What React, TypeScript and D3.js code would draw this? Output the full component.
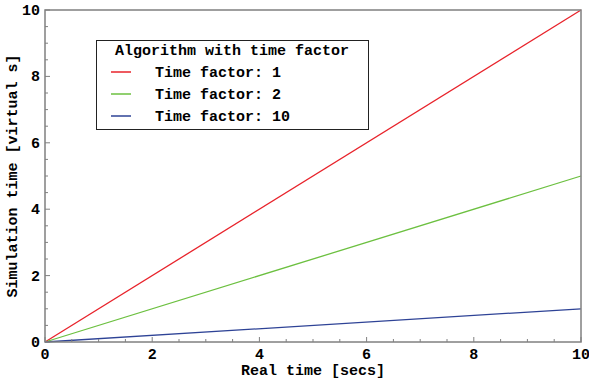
import React, { useRef, useEffect } from 'react';
import * as d3 from 'd3';

const realTime = [0, 10];
const factor1 = [0, 10];
const factor2 = [0, 5];
const factor10 = [0, 1];
const seriesNames = ['Time factor: 1', 'Time factor: 2', 'Time factor: 10'];
const seriesColors = ['#e8232b', '#6cc040', '#2e4396'];
const majorTicks = [0, 2, 4, 6, 8, 10];

function App() {
    const ref = useRef<SVGSVGElement>(null);

    useEffect(() => {
        const svg = d3.select(ref.current);
        svg.selectAll('*').remove();

        const left = 45, right = 581, top = 10, bottom = 342;
        const font = '"Liberation Mono", "DejaVu Sans Mono", monospace';

        const x = d3.scaleLinear().domain([0, 10]).range([left, right]);
        const y = d3.scaleLinear().domain([0, 10]).range([bottom, top]);

        const minor = d3.range(0, 10.01, 0.5).filter(v => !majorTicks.includes(v));

        // series
        const allSeries = [factor1, factor2, factor10];
        const line = d3.line<number>()
            .x((d, i) => x(realTime[i]))
            .y(d => y(d));
        allSeries.forEach((s, i) => {
            svg.append('path')
                .attr('d', line(s))
                .attr('fill', 'none')
                .attr('stroke', seriesColors[i])
                .attr('stroke-width', 1.3);
        });

        // frame
        svg.append('rect')
            .attr('x', left).attr('y', top)
            .attr('width', right - left).attr('height', bottom - top)
            .attr('fill', 'none')
            .attr('stroke', '#808080')
            .attr('stroke-width', 1.5);

        const tickColor = '#808080';
        // x ticks
        majorTicks.forEach(v => {
            svg.append('line')
                .attr('x1', x(v)).attr('x2', x(v))
                .attr('y1', bottom).attr('y2', bottom - 5)
                .attr('stroke', tickColor);
            svg.append('text')
                .attr('x', x(v)).attr('y', bottom + 17)
                .attr('text-anchor', 'middle')
                .style('font-family', font).style('font-weight', 'bold').style('font-size', '15px')
                .text(v);
            svg.append('line')
                .attr('x1', left).attr('x2', left + 5)
                .attr('y1', y(v)).attr('y2', y(v))
                .attr('stroke', tickColor);
            svg.append('text')
                .attr('x', left - 5).attr('y', y(v) + 5)
                .attr('text-anchor', 'end')
                .style('font-family', font).style('font-weight', 'bold').style('font-size', '15px')
                .text(v);
        });
        minor.forEach(v => {
            svg.append('line')
                .attr('x1', x(v)).attr('x2', x(v))
                .attr('y1', bottom).attr('y2', bottom - 3)
                .attr('stroke', tickColor);
            svg.append('line')
                .attr('x1', left).attr('x2', left + 3)
                .attr('y1', y(v)).attr('y2', y(v))
                .attr('stroke', tickColor);
        });

        // axis labels
        svg.append('text')
            .attr('x', (left + right) / 2).attr('y', 375)
            .attr('text-anchor', 'middle')
            .style('font-family', font).style('font-weight', 'bold').style('font-size', '15px')
            .text('Real time [secs]');
        svg.append('text')
            .attr('transform', `translate(17,${(top + bottom) / 2}) rotate(-90)`)
            .attr('text-anchor', 'middle')
            .style('font-family', font).style('font-weight', 'bold').style('font-size', '15px')
            .text('Simulation time [virtual s]');

        // legend
        const lg = svg.append('g');
        lg.append('rect')
            .attr('x', 96.5).attr('y', 40.5)
            .attr('width', 272).attr('height', 89)
            .attr('fill', 'white')
            .attr('stroke', '#222')
            .attr('stroke-width', 1);
        lg.append('text')
            .attr('x', 232).attr('y', 55)
            .attr('text-anchor', 'middle')
            .style('font-family', font).style('font-weight', 'bold').style('font-size', '15px')
            .text('Algorithm with time factor');
        seriesNames.forEach((name, i) => {
            const ry = 72 + i * 22;
            lg.append('line')
                .attr('x1', 111).attr('x2', 131)
                .attr('y1', ry).attr('y2', ry)
                .attr('stroke', seriesColors[i])
                .attr('stroke-width', 1.5);
            lg.append('text')
                .attr('x', 155).attr('y', ry + 5)
                .style('font-family', font).style('font-weight', 'bold').style('font-size', '15px')
                .text(name);
        });
    }, []);

    return (
        <svg ref={ref} width={589} height={388}
            style={{ position: 'absolute', left: 0, top: 0, background: 'white' }} />
    );
}

export default App;
